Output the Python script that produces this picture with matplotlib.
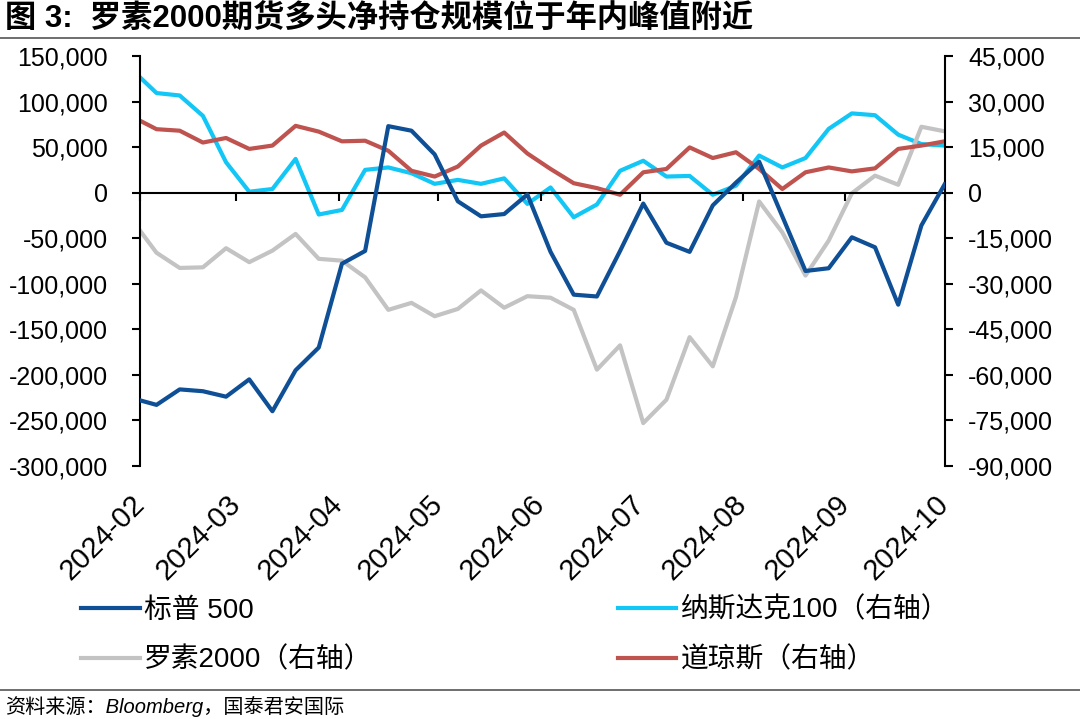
import matplotlib.pyplot as plt
import matplotlib.dates as mdates
import matplotlib.ticker as mticker
import pandas as pd

plt.rcParams['font.family'] = ['Liberation Sans', 'Noto Sans CJK SC']

# --- data (weekly net positions) ---
dates = pd.to_datetime(["2024-02-01"]).append(
    pd.date_range("2024-02-06", "2024-10-01", freq="7D"))

spx = [-228000, -233000, -216000, -218000, -224000, -205000, -240000, -195000,
       -170000, -78000, -64000, 73000, 68000, 42000, -9500, -26000, -23500,
       -2000, -65000, -112000, -114000, -64000, -12000, -55000, -65000,
       -14000, 11000, 34000, -26000, -86000, -83000, -49000, -60000, -123000,
       -36000, 9000]
ndx = [38000, 32800, 32000, 25300, 10000, 300, 1200, 11100, -7200, -5700,
       7500, 8300, 6400, 2900, 4200, 2900, 4700, -3700, 1700, -8100, -3900,
       7200, 10500, 5300, 5500, -700, 2300, 12200, 8300, 11400, 21000, 26100,
       25500, 19100, 16000, 15500]
rty = [-12500, -19800, -24800, -24600, -18300, -22900, -19100, -13600, -21800,
       -22400, -27900, -38600, -36300, -40700, -38300, -32200, -37900, -34100,
       -34600, -38600, -58300, -50300, -75900, -68200, -47600, -57200, -34400,
       -2900, -13100, -27300, -15800, -200, 5600, 2600, 21700, 20200]
dji = [23700, 20900, 20400, 16500, 18000, 14400, 15500, 22000, 20100, 16900,
       17100, 13800, 7200, 5300, 8600, 15500, 19800, 12900, 7800, 3100, 1500,
       -700, 6700, 7800, 14900, 11400, 13300, 7800, 1200, 6700, 8300, 7000,
       8000, 14400, 15500, 16900]

labels = ["标普 500", "纳斯达克100（右轴）", "罗素2000（右轴）", "道琼斯（右轴）"]
colors = ["#0E4F96", "#12C6F6", "#C3C3C3", "#BE534F"]

title = "图 3:  罗素2000期货多头净持仓规模位于年内峰值附近"
source = "资料来源：Bloomberg，国泰君安国际"

# --- plot ---
fig = plt.figure(figsize=(10.8, 7.19), dpi=100)
ax = fig.add_axes([0.1296, 0.352, 0.745, 0.5701])
ax2 = ax.twinx()

lw = 3.0
l1, = ax.plot(dates, spx, color=colors[0], lw=lw, zorder=5)
l2, = ax2.plot(dates, ndx, color=colors[1], lw=lw)
l3, = ax2.plot(dates, rty, color=colors[2], lw=lw)
l4, = ax2.plot(dates, dji, color=colors[3], lw=lw)
# keep the left-axis line on top
ax.set_zorder(ax2.get_zorder() + 1)
ax.patch.set_visible(False)

ax.set_xlim(pd.Timestamp("2024-02-01"), pd.Timestamp("2024-10-01"))
ax.set_ylim(-300000, 150000)
ax2.set_ylim(-90000, 45000)
ax.yaxis.set_major_locator(mticker.MultipleLocator(50000))
ax2.yaxis.set_major_locator(mticker.MultipleLocator(15000))
fmt = mticker.FuncFormatter(lambda v, p: f"{v:,.0f}")
ax.yaxis.set_major_formatter(fmt)
ax2.yaxis.set_major_formatter(fmt)

ax.xaxis.set_major_locator(mdates.MonthLocator())
ax.xaxis.set_major_formatter(mdates.DateFormatter("%Y-%m"))

for s in ["top", "right"]:
    ax.spines[s].set_visible(False)
for s in ["top", "left", "bottom"]:
    ax2.spines[s].set_visible(False)
ax.spines["bottom"].set_position(("data", 0))
for sp in [ax.spines["left"], ax.spines["bottom"], ax2.spines["right"]]:
    sp.set_linewidth(1.5)
    sp.set_color("black")

ax.tick_params(axis="y", labelsize=18, length=6, width=1.5, pad=17)
ax2.tick_params(axis="y", labelsize=18, length=6, width=1.5, pad=11)
ax.tick_params(axis="x", labelsize=21, length=6, width=1.5, pad=215)
for t in ax.get_xticklabels():
    t.set_rotation(45)
    t.set_ha("right")
    t.set_va("center")
    t.set_rotation_mode("anchor")

# columns fill top-down, so order handles to get the reference's rows
order = [0, 2, 1, 3]
handles = [l1, l2, l3, l4]
fig.legend([handles[i] for i in order], [labels[i] for i in order],
           ncol=2, frameon=False,
           loc="upper left", bbox_to_anchor=(0.065, 0.185),
           fontsize=20, handlelength=2.1, handletextpad=0.15,
           columnspacing=8.85, labelspacing=0.84, borderaxespad=0)

# title and source with rules
fig.text(0.005, 0.974, title, fontsize=22.5, fontweight="bold", va="center")
fig.add_artist(plt.Line2D([0, 1], [0.947, 0.947], color="#555555", lw=1.2))
fig.add_artist(plt.Line2D([0, 1], [0.04, 0.04], color="#555555", lw=1.2))
fig.text(0.005, 0.018, source, fontsize=14.5, style="italic", va="center")

fig.savefig("out.png", dpi=100)
